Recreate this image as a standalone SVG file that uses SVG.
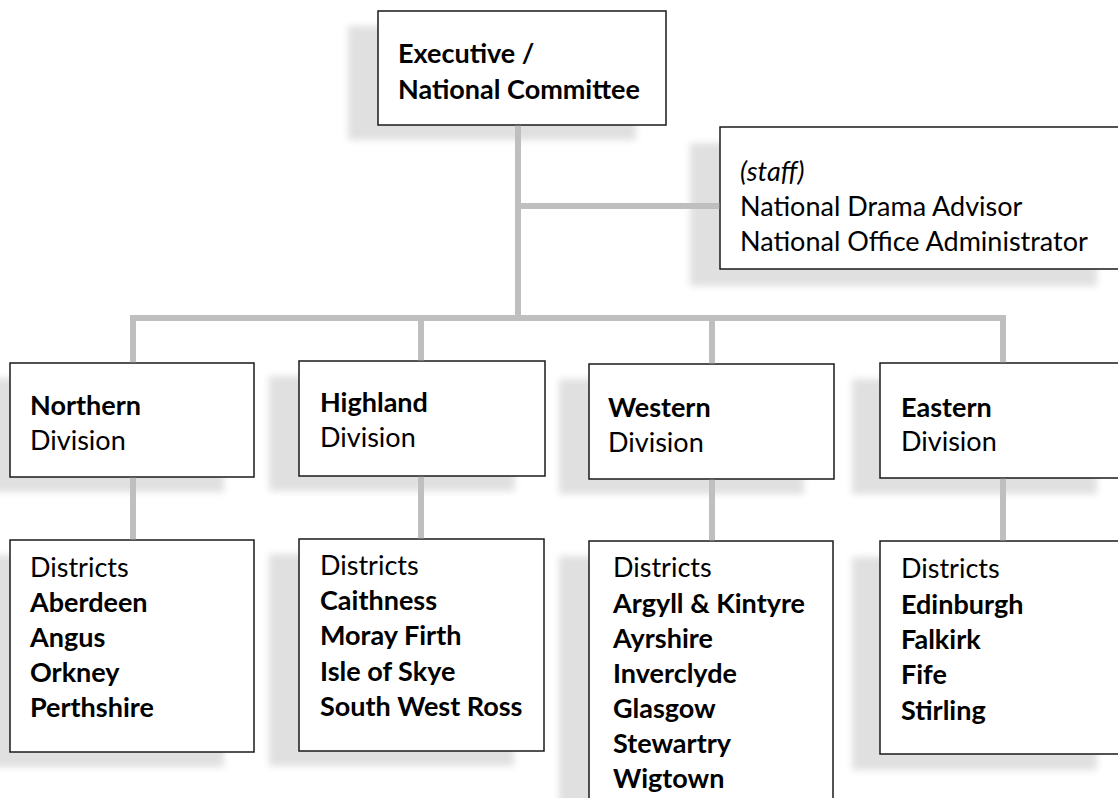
<svg xmlns="http://www.w3.org/2000/svg" width="1118" height="798" viewBox="0 0 1118 798">
<defs>
<filter id="blur" x="-20%" y="-20%" width="140%" height="140%"><feGaussianBlur stdDeviation="3.5"/></filter>
<style>
.box{fill:#fff;stroke:#1a1a1a;stroke-width:1.5}
.sh{fill:#e0e0e0;filter:url(#blur)}
.conn{fill:none;stroke:#bfbfbf;stroke-width:6}
text{font-family:Lato,"Open Sans","Liberation Sans",sans-serif;font-size:27px;fill:#000}
.b{font-weight:bold}
.i{font-style:italic}
</style>
</defs>
<rect width="1118" height="798" fill="#fff"/>
<g id="executive">
<rect class="sh" x="348" y="26" width="288" height="114"/>
<rect class="box" x="378" y="11" width="288" height="114"/>
<text class="b" x="398" y="63">Executive /</text>
<text class="b" x="398" y="99">National Committee</text>
</g>
<g id="staff">
<rect class="sh" x="690" y="143" width="407" height="143"/>
<rect class="box" x="720" y="127" width="410" height="142"/>
<text class="i" x="740" y="181">(staff)</text>
<text x="740" y="216">National Drama Advisor</text>
<text x="740" y="251">National Office Administrator</text>
</g>
<g id="northern-division">
<rect class="sh" x="-20" y="378" width="244" height="114"/>
<rect class="box" x="10" y="363" width="244" height="114"/>
<text class="b" x="30" y="415">Northern</text>
<text x="30" y="450">Division</text>
</g>
<g id="highland-division">
<rect class="sh" x="269" y="376" width="246" height="115"/>
<rect class="box" x="299" y="361" width="246" height="115"/>
<text class="b" x="320" y="412">Highland</text>
<text x="320" y="447">Division</text>
</g>
<g id="western-division">
<rect class="sh" x="559" y="379" width="245" height="115"/>
<rect class="box" x="589" y="364" width="245" height="115"/>
<text class="b" x="608" y="417">Western</text>
<text x="608" y="452">Division</text>
</g>
<g id="eastern-division">
<rect class="sh" x="852" y="379" width="245" height="115"/>
<rect class="box" x="880" y="363" width="250" height="115"/>
<text class="b" x="901" y="417">Eastern</text>
<text x="901" y="451">Division</text>
</g>
<g id="northern-districts">
<rect class="sh" x="-20" y="555" width="244" height="212"/>
<rect class="box" x="10" y="540" width="244" height="212"/>
<text x="30" y="577">Districts</text>
<text class="b" x="30" y="612">Aberdeen</text>
<text class="b" x="30" y="647">Angus</text>
<text class="b" x="30" y="682">Orkney</text>
<text class="b" x="30" y="717">Perthshire</text>
</g>
<g id="highland-districts">
<rect class="sh" x="269" y="554" width="245" height="212"/>
<rect class="box" x="299" y="539" width="245" height="212"/>
<text x="320" y="575">Districts</text>
<text class="b" x="320" y="610">Caithness</text>
<text class="b" x="320" y="645">Moray Firth</text>
<text class="b" x="320" y="681">Isle of Skye</text>
<text class="b" x="320" y="716">South West Ross</text>
</g>
<g id="western-districts">
<rect class="sh" x="559" y="556" width="244" height="260"/>
<rect class="box" x="589" y="541" width="244" height="270"/>
<text x="613" y="577">Districts</text>
<text class="b" x="613" y="613">Argyll &amp; Kintyre</text>
<text class="b" x="613" y="648">Ayrshire</text>
<text class="b" x="613" y="683">Inverclyde</text>
<text class="b" x="613" y="718">Glasgow</text>
<text class="b" x="613" y="753">Stewartry</text>
<text class="b" x="613" y="788">Wigtown</text>
</g>
<g id="eastern-districts">
<rect class="sh" x="852" y="557" width="245" height="213"/>
<rect class="box" x="880" y="541" width="250" height="213"/>
<text x="901" y="578">Districts</text>
<text class="b" x="901" y="614">Edinburgh</text>
<text class="b" x="901" y="649">Falkirk</text>
<text class="b" x="901" y="684">Fife</text>
<text class="b" x="901" y="720">Stirling</text>
</g>
<g id="connectors">
<path class="conn" d="M518,125.8V318"/>
<path class="conn" d="M521,206H719.3"/>
<path class="conn" d="M133,362.3V318H1003V362.3"/>
<path class="conn" d="M421,318V360.3"/>
<path class="conn" d="M712,318V363.3"/>
<path class="conn" d="M133,477.8V539.3"/>
<path class="conn" d="M421,476.8V538.3"/>
<path class="conn" d="M712,479.8V540.3"/>
<path class="conn" d="M1003,478.8V540.3"/>
</g>
</svg>
